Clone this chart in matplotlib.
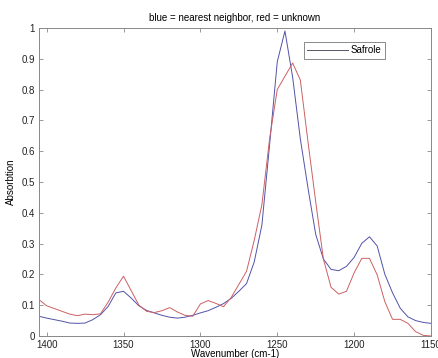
import matplotlib
matplotlib.use("Agg")
import matplotlib.pyplot as plt

# wavenumber grid (cm-1), 5 cm-1 spacing
wavenumber = [1405, 1400, 1395, 1390, 1385, 1380, 1375, 1370, 1365, 1360,
              1355, 1350, 1345, 1340, 1335, 1330, 1325, 1320, 1315, 1310,
              1305, 1300, 1295, 1290, 1285, 1280, 1275, 1270, 1265, 1260,
              1255, 1250, 1245, 1240, 1235, 1230, 1225, 1220, 1215, 1210,
              1205, 1200, 1195, 1190, 1185, 1180, 1175, 1170, 1165, 1160,
              1155, 1150]

# nearest neighbour spectrum (Safrole)
safrole = [0.064, 0.058, 0.053, 0.048, 0.042, 0.041, 0.042, 0.053, 0.069, 0.096,
           0.140, 0.145, 0.123, 0.098, 0.083, 0.075, 0.067, 0.061, 0.058, 0.061,
           0.067, 0.075, 0.082, 0.093, 0.105, 0.122, 0.145, 0.170, 0.240, 0.360,
           0.620, 0.890, 0.990, 0.840, 0.640, 0.480, 0.330, 0.250, 0.216, 0.212,
           0.226, 0.255, 0.301, 0.322, 0.292, 0.200, 0.140, 0.090, 0.062, 0.050,
           0.044, 0.041]

# unknown spectrum
unknown = [0.118, 0.098, 0.089, 0.080, 0.071, 0.066, 0.071, 0.069, 0.072, 0.110,
           0.156, 0.194, 0.147, 0.100, 0.080, 0.076, 0.082, 0.092, 0.078, 0.067,
           0.064, 0.104, 0.115, 0.106, 0.095, 0.125, 0.167, 0.210, 0.310, 0.426,
           0.640, 0.800, 0.843, 0.886, 0.831, 0.630, 0.436, 0.250, 0.158, 0.136,
           0.145, 0.205, 0.252, 0.252, 0.198, 0.111, 0.054, 0.054, 0.041, 0.014,
           0.002, 0.000]

plt.rcParams["font.family"] = ["Liberation Sans", "DejaVu Sans"]

fig = plt.figure(figsize=(4.38, 3.58), dpi=100)
ax = fig.add_axes([0.089, 0.0615, 0.895, 0.8605])

ax.plot(wavenumber, safrole, color="#5252aa", lw=0.7, label="Safrole")
ax.plot(wavenumber, unknown, color="#cc6064", lw=0.7)

ax.set_xlim(1405, 1150)
ax.set_ylim(0, 1)
ax.set_xticks([1400, 1350, 1300, 1250, 1200, 1150])
ax.set_yticks([0, 0.1, 0.2, 0.3, 0.4, 0.5, 0.6, 0.7, 0.8, 0.9, 1])
ax.set_yticklabels(["0", "0.1", "0.2", "0.3", "0.4", "0.5", "0.6", "0.7",
                    "0.8", "0.9", "1"])
ax.tick_params(direction="in", top=True, right=True, length=3, width=0.6,
               color="#888888", labelsize=7, labelcolor="#222222", pad=3)
for s in ax.spines.values():
    s.set_color("#888888")
    s.set_linewidth(0.7)

ax.set_title("blue = nearest neighbor, red = unknown", fontsize=7, pad=5)
ax.set_xlabel("Wavenumber (cm-1)", fontsize=7, labelpad=-1)
ax.set_ylabel("Absorbtion", fontsize=7, labelpad=4)

leg = ax.legend(loc="upper right", bbox_to_anchor=(0.895, 0.97), fontsize=7,
                fancybox=False, framealpha=1, edgecolor="#777777",
                handlelength=4.2, handletextpad=0.3, borderpad=0.35)
leg.get_frame().set_linewidth(0.6)
leg.get_lines()[0].set_color("#555566")

fig.savefig("out.png", dpi=100)
